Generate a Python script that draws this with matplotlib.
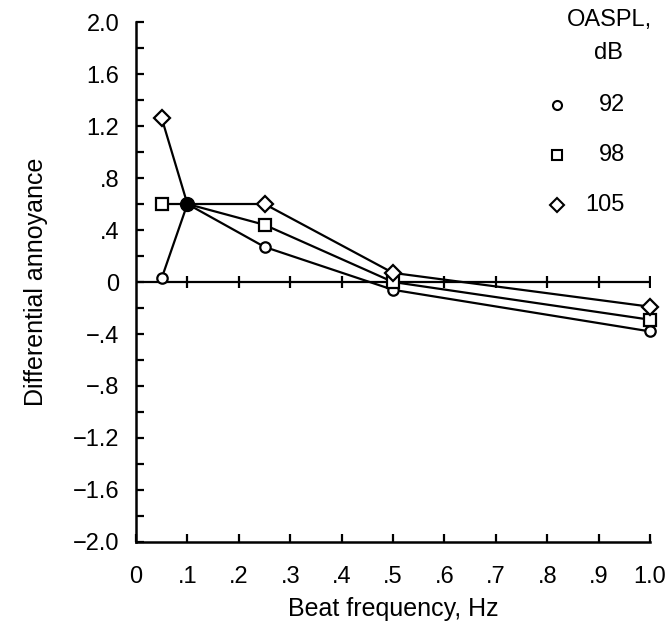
import numpy as np
import matplotlib.pyplot as plt

plt.rcParams['font.family'] = ['Liberation Sans', 'DejaVu Sans']

# data
freq = [0.05, 0.1, 0.25, 0.5, 1.0]
db92 = [0.03, 0.6, 0.27, -0.06, -0.38]
db98 = [0.6, 0.6, 0.44, 0.0, -0.29]
db105 = [1.26, 0.6, 0.6, 0.07, -0.19]
levels = ['92', '98', '105']
markers = ['o', 's', 'D']
msizes = [7.5, 8, 8]

xticks = np.arange(0, 1.01, 0.1)
xticklabels = ['0', '.1', '.2', '.3', '.4', '.5', '.6', '.7', '.8', '.9', '1.0']
yticks = np.arange(-2.0, 2.01, 0.4)
yticklabels = ['\u22122.0', '\u22121.6', '\u22121.2', '\u2212.8', '\u2212.4', '0',
               '.4', '.8', '1.2', '1.6', '2.0']

W, H = 670, 632
fig = plt.figure(figsize=(W / 100, H / 100), dpi=100)
ax = fig.add_axes([136 / W, 90 / H, 514 / W, 520 / H])

series = [db92, db98, db105]
for vals, m, ms in zip(series, markers, msizes):
    ax.plot(freq, vals, color='black', lw=1.6, marker=m, ms=ms,
            mfc='white', mec='black', mew=1.6, markevery=[0, 2, 3, 4],
            clip_on=False, zorder=3)

# common point at 0.1 Hz drawn filled
ax.plot(freq[1], db92[1], 'o', color='black', ms=10, zorder=4)

# zero line with tick marks
ax.plot([0, 1.0], [0, 0], color='black', lw=1.6, zorder=2)
ax.plot(xticks[1:], np.zeros(len(xticks) - 1), '|', color='black',
        ms=9, mew=1.6, zorder=2)

ax.set_xlim(0, 1.0)
ax.set_ylim(-2.0, 2.0)
ax.set_xticks(xticks)
ax.set_xticklabels(xticklabels)
ax.set_yticks(yticks)
ax.set_yticklabels(yticklabels)
ax.set_yticks(np.arange(-2.0, 2.01, 0.2), minor=True)

ax.tick_params(axis='both', direction='in', length=6, width=1.6,
               labelsize=17, color='black')
ax.tick_params(axis='x', pad=17)
ax.tick_params(axis='y', pad=12)
ax.tick_params(axis='y', which='minor', direction='in', length=6, width=1.6)

for side in ['top', 'right']:
    ax.spines[side].set_visible(False)
for side in ['left', 'bottom']:
    ax.spines[side].set_linewidth(1.8)

ax.set_xlabel('Beat frequency, Hz', fontsize=18, labelpad=7)
ax.set_ylabel('Differential annoyance', fontsize=18, labelpad=18)

# legend drawn by hand
tf = fig.transFigure
fig.text(609 / W, 1 - 20 / H, 'OASPL,', fontsize=17, ha='center', va='center')
fig.text(608 / W, 1 - 53 / H, 'dB', fontsize=17, ha='center', va='center')
rows = [105, 155, 205]
for lab, m, ms, py in zip(levels, markers, [6.5, 6.5, 7], rows):
    ax.plot([557 / W], [1 - py / H], marker=m, ms=ms, mfc='white', mec='black',
            mew=1.5, transform=tf, clip_on=False)
    fig.text(625 / W, 1 - py / H, lab, fontsize=17, ha='right', va='center')

fig.savefig('out.png', dpi=100)
